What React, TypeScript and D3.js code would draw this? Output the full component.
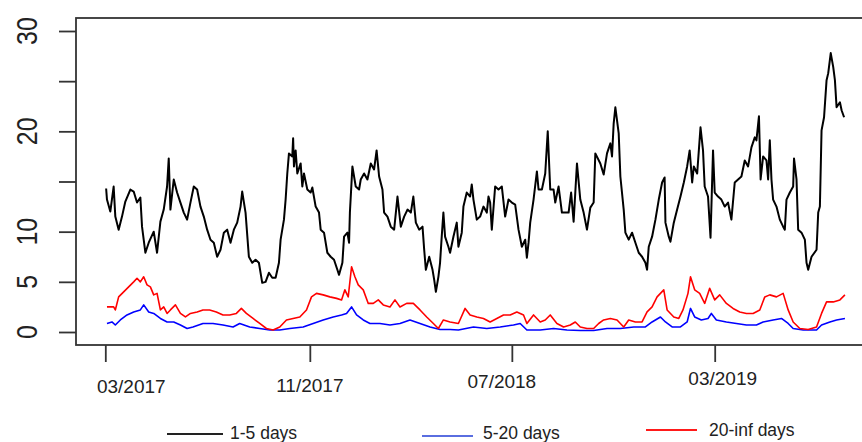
import React, { useEffect, useRef } from 'react';
import { select, line, scaleLinear, scaleTime, timeDay, axisLeft, axisBottom } from 'd3';

const startDate = new Date(2017, 2, 1);

const shortRange = [
  [1, 14.3], [2, 13.2], [6, 12.0], [10, 14.5], [12, 11.5], [16, 10.2], [20, 11.5], [24, 13.0], [30, 14.2], [34, 14.0],
  [38, 12.9], [42, 13.4], [44, 10.5], [48, 7.9], [52, 8.9], [58, 10.0], [62, 7.9], [66, 11.0], [70, 12.2], [74, 14.5],
  [76, 17.3], [78, 12.2], [82, 15.2], [86, 13.9], [90, 12.9], [94, 11.9], [98, 11.2], [102, 12.9], [106, 14.5], [110, 14.2],
  [114, 12.5], [118, 11.5], [122, 10.2], [126, 9.2], [130, 8.9], [134, 7.5], [138, 8.2], [142, 9.9], [146, 10.2], [150, 8.9],
  [154, 10.2], [158, 10.9], [162, 12.5], [164, 14.0], [168, 11.9], [172, 7.5], [176, 6.9], [180, 7.2], [184, 6.9], [188, 4.9],
  [192, 5.0], [196, 5.9], [200, 5.4], [204, 5.4], [208, 6.9], [210, 9.2], [214, 11.2], [216, 13.2], [218, 15.8], [220, 17.8],
  [224, 17.5], [225, 19.3], [226, 16.5], [228, 18.1], [230, 15.8], [234, 16.8], [236, 14.5], [238, 15.8], [242, 14.2], [246, 13.9],
  [248, 14.4], [252, 12.5], [256, 11.9], [258, 10.2], [262, 9.9], [266, 7.9], [270, 7.5], [274, 7.2], [278, 6.2], [280, 5.7],
  [284, 6.9], [286, 9.5], [290, 9.9], [292, 8.9], [293, 11.9], [296, 16.5], [300, 14.5], [304, 14.2], [306, 15.2], [310, 15.8],
  [314, 15.2], [318, 16.8], [322, 16.2], [325, 18.1], [328, 15.5], [332, 14.2], [334, 11.9], [338, 11.5], [342, 10.5], [346, 10.2],
  [350, 13.5], [354, 10.5], [358, 11.5], [362, 12.2], [366, 11.9], [369, 13.5], [372, 10.9], [376, 10.2], [380, 10.5], [382, 8.2],
  [384, 6.2], [388, 7.5], [392, 6.2], [394, 5.2], [396, 4.0], [399, 5.5], [401, 6.9], [403, 9.5], [405, 11.9], [407, 9.5],
  [411, 8.5], [413, 7.9], [417, 9.5], [421, 10.9], [423, 8.5], [427, 9.9], [429, 12.5], [433, 13.9], [437, 13.5], [439, 14.7],
  [441, 13.2], [445, 11.2], [449, 11.5], [453, 12.5], [457, 11.9], [459, 13.5], [461, 12.9], [463, 10.2], [467, 14.5], [471, 14.2],
  [475, 14.5], [479, 11.5], [483, 13.2], [487, 12.9], [491, 12.7], [495, 10.2], [499, 8.5], [503, 9.2], [505, 7.4], [507, 8.9],
  [509, 10.9], [513, 13.2], [517, 16.0], [519, 14.2], [523, 14.2], [527, 15.8], [530, 20.0], [533, 14.2], [537, 14.2], [539, 12.9],
  [543, 14.5], [547, 11.9], [551, 11.9], [555, 11.9], [558, 13.9], [561, 11.0], [565, 16.8], [569, 13.2], [573, 11.9], [577, 10.2],
  [581, 12.4], [585, 12.9], [587, 17.8], [593, 16.8], [597, 15.7], [601, 17.8], [605, 18.8], [607, 17.5], [609, 20.8], [611, 22.4],
  [615, 19.8], [617, 15.5], [621, 12.2], [623, 9.9], [627, 9.2], [631, 9.9], [635, 8.9], [639, 7.9], [643, 7.5], [647, 6.9],
  [649, 6.2], [651, 8.5], [655, 9.5], [659, 11.2], [663, 13.2], [667, 14.9], [670, 15.4], [671, 10.9], [675, 9.5], [677, 9.0],
  [681, 10.9], [685, 12.2], [689, 13.5], [693, 14.9], [697, 16.5], [700, 18.1], [703, 14.9], [705, 16.5], [709, 15.8], [711, 18.1],
  [713, 20.4], [716, 18.1], [718, 14.5], [722, 13.5], [725, 9.4], [728, 18.1], [730, 13.9], [734, 13.5], [738, 13.2], [742, 12.5],
  [746, 12.9], [750, 11.2], [754, 14.9], [758, 15.2], [762, 15.5], [766, 17.1], [770, 16.5], [774, 18.4], [778, 19.4], [780, 19.1],
  [783, 21.5], [785, 15.2], [788, 17.5], [792, 17.1], [794, 15.2], [796, 19.1], [798, 15.2], [800, 13.2], [804, 12.5], [808, 11.2],
  [812, 10.5], [814, 10.2], [816, 13.2], [820, 13.9], [824, 14.5], [825, 17.3], [828, 15.2], [830, 10.2], [834, 9.9], [838, 9.2],
  [840, 6.9], [842, 6.2], [846, 7.5], [852, 8.2], [854, 11.9], [856, 12.5], [858, 20.1], [861, 21.4], [864, 25.1], [866, 25.8],
  [869, 27.8], [872, 26.4], [874, 25.1], [876, 22.4], [880, 22.9], [882, 22.1], [885, 21.4]
];

const midRange = [
  [2, 0.85], [8, 1.0], [12, 0.7], [18, 1.2], [26, 1.7], [34, 2.0], [42, 2.2], [46, 2.7], [52, 2.0], [58, 1.85],
  [66, 1.35], [74, 1.0], [82, 1.0], [90, 0.7], [98, 0.35], [105, 0.5], [117, 0.85], [129, 0.85], [141, 0.7], [153, 0.5],
  [161, 0.85], [173, 0.5], [185, 0.35], [197, 0.2], [209, 0.2], [221, 0.35], [237, 0.5], [249, 0.85], [261, 1.2], [273, 1.5],
  [283, 1.7], [289, 1.85], [295, 2.5], [301, 1.7], [309, 1.2], [317, 0.85], [329, 0.85], [341, 0.7], [353, 0.85], [365, 1.2],
  [377, 0.85], [389, 0.5], [401, 0.25], [413, 0.25], [423, 0.2], [441, 0.5], [457, 0.35], [473, 0.5], [489, 0.7], [497, 0.85],
  [505, 0.2], [521, 0.2], [537, 0.35], [553, 0.2], [569, 0.15], [585, 0.15], [601, 0.35], [617, 0.35], [633, 0.5], [647, 0.5],
  [655, 1.0], [665, 1.5], [671, 1.0], [679, 0.5], [689, 0.5], [697, 1.0], [701, 2.35], [706, 1.5], [714, 1.2], [722, 1.35],
  [726, 1.85], [732, 1.2], [744, 1.0], [756, 0.85], [768, 0.7], [780, 0.7], [788, 1.0], [800, 1.2], [810, 1.35], [818, 0.85],
  [824, 0.35], [836, 0.2], [852, 0.2], [858, 0.7], [868, 1.0], [876, 1.2], [886, 1.35]
];

const longRange = [
  [2, 2.5], [10, 2.5], [12, 2.2], [16, 3.5], [22, 4.0], [28, 4.5], [34, 5.0], [38, 5.35], [42, 5.0], [46, 5.5],
  [50, 4.7], [54, 4.5], [58, 3.7], [62, 3.85], [66, 2.2], [70, 2.5], [74, 1.85], [78, 2.2], [84, 2.7], [90, 1.85],
  [96, 1.5], [102, 1.85], [110, 2.0], [117, 2.2], [125, 2.2], [133, 2.0], [141, 1.7], [149, 1.7], [157, 1.85], [163, 2.35],
  [169, 1.85], [177, 1.35], [185, 0.85], [193, 0.35], [201, 0.2], [209, 0.5], [217, 1.2], [225, 1.35], [233, 1.5], [241, 2.2],
  [247, 3.5], [253, 3.85], [261, 3.7], [269, 3.5], [277, 3.35], [283, 3.2], [287, 4.2], [291, 3.5], [295, 6.5], [299, 5.5],
  [303, 4.7], [309, 4.2], [315, 2.85], [321, 2.85], [327, 3.2], [333, 2.7], [341, 2.5], [347, 3.2], [353, 2.5], [361, 2.85],
  [369, 2.85], [377, 2.2], [385, 1.5], [393, 0.85], [399, 0.35], [405, 1.2], [413, 1.0], [423, 0.85], [431, 2.35], [437, 1.7],
  [445, 1.5], [453, 1.35], [461, 1.0], [469, 1.35], [477, 1.7], [485, 1.7], [493, 2.0], [501, 1.7], [505, 0.85], [513, 1.7],
  [521, 1.0], [527, 1.2], [533, 1.7], [541, 0.85], [549, 0.5], [557, 0.7], [563, 1.0], [569, 0.5], [577, 0.35], [585, 0.35],
  [591, 0.85], [597, 1.2], [605, 1.35], [613, 1.2], [621, 0.5], [627, 1.2], [635, 1.0], [643, 1.0], [649, 2.0], [655, 2.5],
  [661, 3.5], [665, 3.85], [669, 4.2], [673, 2.2], [681, 1.5], [687, 1.35], [692, 2.2], [698, 3.85], [701, 5.5], [706, 4.2],
  [712, 3.85], [718, 2.85], [724, 4.35], [730, 3.2], [736, 3.7], [744, 2.85], [752, 2.35], [760, 2.0], [768, 1.85], [776, 1.85],
  [784, 2.2], [790, 3.5], [796, 3.7], [804, 3.5], [812, 3.85], [818, 2.2], [824, 1.0], [832, 0.35], [842, 0.25], [852, 0.5],
  [858, 1.85], [864, 3.0], [872, 3.0], [880, 3.2], [886, 3.7]
];

const tickDates = [new Date(2017, 2, 1), new Date(2017, 10, 1), new Date(2018, 6, 1), new Date(2019, 2, 1)];
const tickLabels = ['03/2017', '11/2017', '07/2018', '03/2019'];
const yTicks = [0, 5, 10, 15, 20, 25, 30];
const yLabels = [0, 5, 10, 20, 30]; // 15 and 25 get dropped by R (too close)
const seriesNames = ['1-5 days', '5-20 days', '20-inf days'];
const seriesColors = ['#000000', '#0000ff', '#ff0000'];
const legendColors = ['#222222', '#5a6ee0', '#ff1a1a'];

// the labels under the x axis were nudged by hand in the original
const labelShift = [[26, 393], [0, 392], [-10, 388], [8, 385]];
const legendPos = [[167, 223, 434, 230, 439], [422, 473, 436, 483, 438.5], [646, 697, 430, 709, 436]];

export default function App() {
  const svgRef = useRef(null);

  useEffect(() => {
    const svg = select(svgRef.current);
    svg.selectAll('*').remove();

    const xScale = scaleTime()
      .domain([tickDates[0], tickDates[3]])
      .range([105.3, 714.7]);
    const yScale = scaleLinear()
      .domain([0, 30])
      .range([332, 31]);

    const font = "'Liberation Sans', Arial, sans-serif";

    // plot box (right edge falls outside the picture)
    svg.append('rect')
      .attr('x', 76).attr('y', 18)
      .attr('width', 800).attr('height', 327)
      .attr('fill', 'none')
      .attr('stroke', '#333')
      .attr('stroke-width', 1.8);

    const yAxis = axisLeft(yScale).tickValues(yTicks).tickSize(17).tickSizeOuter(0).tickFormat(() => '');
    const gy = svg.append('g').attr('transform', 'translate(76,0)').call(yAxis);
    gy.select('.domain').remove();
    gy.selectAll('line').attr('stroke', '#333').attr('stroke-width', 1.8);

    svg.append('g')
      .selectAll('text')
      .data(yLabels)
      .join('text')
      .attr('transform', d => `translate(37,${yScale(d)}) scale(1.15,1) rotate(-90)`)
      .attr('text-anchor', 'middle')
      .attr('font-family', font)
      .attr('font-size', 25)
      .attr('fill', '#222')
      .text(d => d);

    const xAxis = axisBottom(xScale).tickValues(tickDates).tickSize(17).tickSizeOuter(0).tickFormat(() => '');
    const gx = svg.append('g').attr('transform', 'translate(0,345)').call(xAxis);
    gx.select('.domain').remove();
    gx.selectAll('line').attr('stroke', '#333').attr('stroke-width', 1.8);

    svg.append('g')
      .selectAll('text')
      .data(tickLabels)
      .join('text')
      .attr('x', (d, i) => xScale(tickDates[i]) + labelShift[i][0])
      .attr('y', (d, i) => labelShift[i][1])
      .attr('text-anchor', 'middle')
      .attr('font-family', font)
      .attr('font-size', 19)
      .attr('fill', '#222')
      .text(d => d);

    const myLine = line()
      .x(d => xScale(timeDay.offset(startDate, d[0])))
      .y(d => yScale(d[1]));

    // black first, then blue, red on top
    const series = [shortRange, midRange, longRange];
    svg.append('g')
      .selectAll('path')
      .data(series)
      .join('path')
      .attr('d', d => myLine(d))
      .attr('fill', 'none')
      .attr('stroke', (d, i) => seriesColors[i])
      .attr('stroke-width', (d, i) => (i === 0 ? 2 : 1.6))
      .attr('stroke-linejoin', 'round');

    const leg = svg.append('g')
      .selectAll('g')
      .data(seriesNames)
      .join('g');
    leg.append('line')
      .attr('x1', (d, i) => legendPos[i][0])
      .attr('x2', (d, i) => legendPos[i][1])
      .attr('y1', (d, i) => legendPos[i][2])
      .attr('y2', (d, i) => legendPos[i][2])
      .attr('stroke', (d, i) => legendColors[i])
      .attr('stroke-width', 2);
    leg.append('text')
      .attr('x', (d, i) => legendPos[i][3])
      .attr('y', (d, i) => legendPos[i][4])
      .attr('font-family', font)
      .attr('font-size', 17.5)
      .attr('fill', '#222')
      .text(d => d);
  }, []);

  return (
    <svg
      ref={svgRef}
      width={862}
      height={442}
      style={{ position: 'absolute', left: 0, top: 0, background: '#fff' }}
    />
  );
}
